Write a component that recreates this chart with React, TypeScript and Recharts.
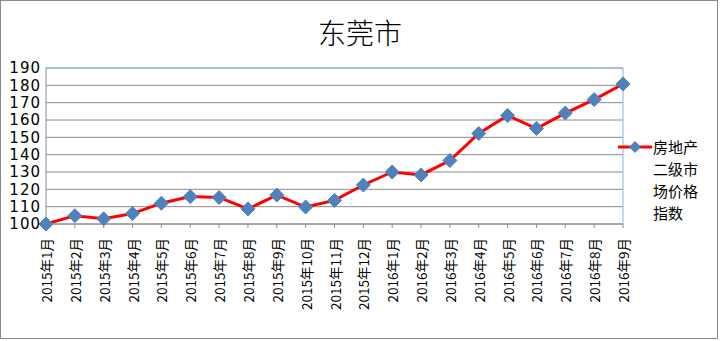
import { LineChart, Line, XAxis, YAxis, CartesianGrid, ReferenceLine } from "recharts";

const months = [
  "2015年1月", "2015年2月", "2015年3月", "2015年4月", "2015年5月", "2015年6月",
  "2015年7月", "2015年8月", "2015年9月", "2015年10月", "2015年11月", "2015年12月",
  "2016年1月", "2016年2月", "2016年3月", "2016年4月", "2016年5月", "2016年6月",
  "2016年7月", "2016年8月", "2016年9月"
];

const priceIndex = [
  100, 104.8, 103, 106, 112, 115.8, 115.3, 108.7, 116.7, 109.8, 113.6, 122.5,
  130, 128.3, 136.6, 152.2, 162.6, 155.1, 164, 171.8, 180.8
];

const yTicks = [100, 110, 120, 130, 140, 150, 160, 170, 180, 190];

const seriesName = "房地产二级市场价格指数";
const legendLines = ["房地产", "二级市", "场价格", "指数"];
const title = "东莞市";

const data = months.map((m, i) => ({ month: m, value: priceIndex[i] }));

const font = "'Noto Sans CJK SC', 'DejaVu Sans', sans-serif";

const Diamond = (props: any) => {
  const { cx, cy } = props;
  if (cx == null || cy == null) return null;
  const r = 7;
  return (
    <path
      d={`M${cx},${cy - r} L${cx + r},${cy} L${cx},${cy + r} L${cx - r},${cy} Z`}
      fill="#4F81BD"
      stroke="#4F81BD"
    />
  );
};

const MonthTick = (props: any) => {
  const { x, y, payload } = props;
  return (
    <text
      x={x}
      y={y + 8}
      transform={`rotate(-90, ${x}, ${y + 8})`}
      textAnchor="end"
      dominantBaseline="central"
      fontSize={13.5}
      fontFamily={font}
      fill="#000"
    >
      {payload.value}
    </text>
  );
};

export default function App() {
  return (
    <div style={{ position: "absolute", left: 0, top: 0, width: 721, height: 341, background: "#fff" }}>
      <div
        style={{
          position: "absolute", left: 0, top: 0, width: 718, height: 339,
          boxSizing: "border-box", border: "1px solid #8a8a8a"
        }}
      />
      <div
        style={{
          position: "absolute", left: 260, top: 12, width: 200, textAlign: "center",
          fontFamily: font, fontSize: 28, fontWeight: 300, color: "#000", lineHeight: "40px"
        }}
      >
        {title}
      </div>
      <LineChart
        width={721}
        height={341}
        data={data}
        margin={{ top: 68, right: 98, left: 0, bottom: 0 }}
      >
        <CartesianGrid vertical={false} stroke="#8c8c8c" />
        <XAxis
          dataKey="month"
          interval={0}
          height={117}
          stroke="#8c8c8c"
          tickSize={4}
          tick={<MonthTick />}
        />
        <YAxis
          domain={[100, 190]}
          ticks={yTicks}
          interval={0}
          width={46}
          stroke="#8c8c8c"
          tickLine={false}
          tickSize={3}
          tickMargin={2}
          tick={{ fontSize: 15, letterSpacing: 1, fill: "#000", fontFamily: "'DejaVu Sans', sans-serif" }}
        />
        <ReferenceLine y={190} stroke="#8DB3E2" />
        <ReferenceLine x={months[months.length - 1]} stroke="#8DB3E2" />
        <Line
          name={seriesName}
          dataKey="value"
          stroke="#FF0000"
          strokeWidth={3}
          dot={<Diamond />}
          activeDot={false}
          isAnimationActive={false}
        />
      </LineChart>
      <div style={{ position: "absolute", left: 617, top: 136, display: "flex", fontFamily: font, fontSize: 15, color: "#000" }}>
        <svg width={36} height={22} style={{ flex: "none" }}>
          <line x1={1} y1={11} x2={35} y2={11} stroke="#FF0000" strokeWidth={3} />
          <path d="M18,5 L24,11 L18,17 L12,11 Z" fill="#4F81BD" />
        </svg>
        <div style={{ lineHeight: "22px" }}>
          {legendLines.map((l) => (
            <div key={l}>{l}</div>
          ))}
        </div>
      </div>
    </div>
  );
}
